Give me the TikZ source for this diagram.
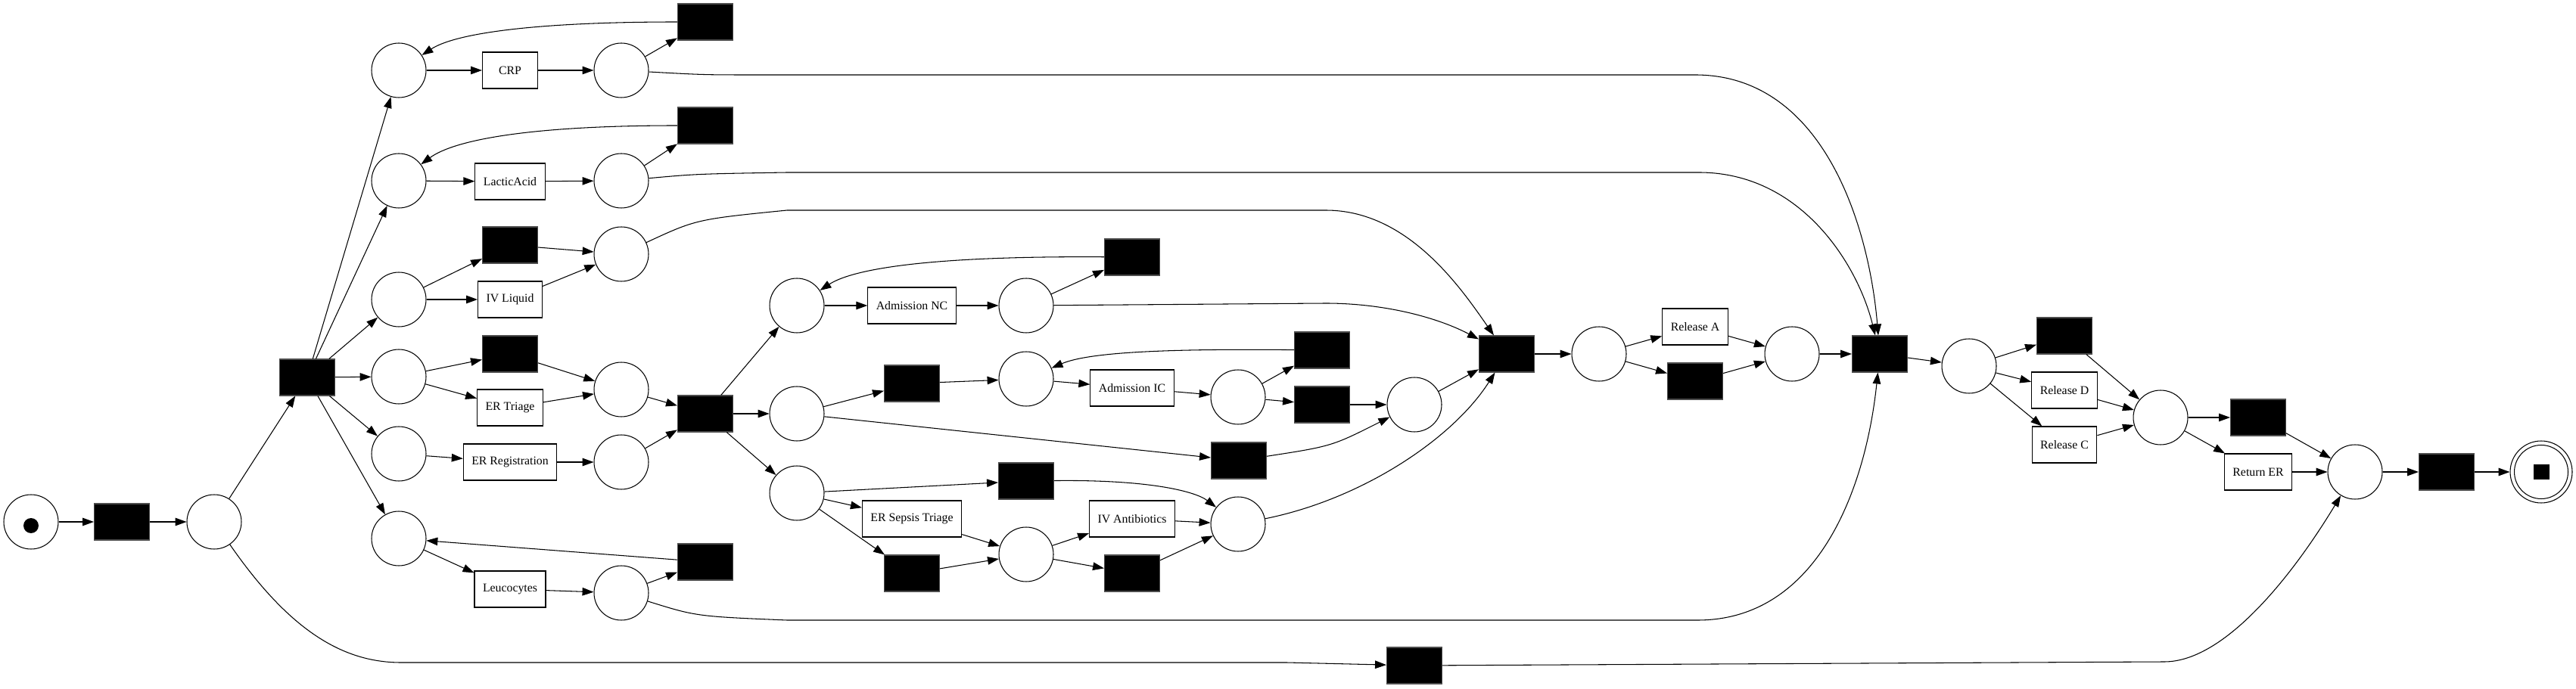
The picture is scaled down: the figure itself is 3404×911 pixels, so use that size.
\documentclass[tikz,border=0pt]{standalone}
\usepackage{fontspec}
\setmainfont{Liberation Serif}
\usetikzlibrary{arrows.meta}

\begin{document}
\begin{tikzpicture}[x=0.02cm,y=-0.02cm,->,>={Triangle[length=8.5pt,width=6pt]},line width=0.6pt,
  place/.style={circle,draw,minimum size=1.44cm,inner sep=0pt},
  final place/.style={circle,draw,minimum size=1.64cm,inner sep=0pt},
  tau/.style={rectangle,draw=black!70,fill=black,minimum width=1.46cm,minimum height=0.96cm,inner sep=0pt},
  task/.style={rectangle,draw,minimum width=1.46cm,minimum height=0.96cm,inner xsep=0.22cm,
    font=\fontsize{9}{11}\selectfont}]

  \useasboundingbox (0,0) rectangle (3404,911);

  % places
  \node[place] (p0) at (41,690) {};
  \node[place] (p1) at (283,690) {};
  \node[place] (p2) at (527,93) {};
  \node[place] (p3) at (527,239) {};
  \node[place] (p4) at (527,396) {};
  \node[place] (p5) at (527,498) {};
  \node[place] (p6) at (527,600) {};
  \node[place] (p7) at (527,712) {};
  \node[place] (p8) at (821,93) {};
  \node[place] (p9) at (821,239) {};
  \node[place] (p10) at (821,336) {};
  \node[place] (p11) at (821,515) {};
  \node[place] (p12) at (821,611) {};
  \node[place] (p13) at (821,784) {};
  \node[place] (p14) at (1053,404) {};
  \node[place] (p15) at (1053,547) {};
  \node[place] (p16) at (1053,652) {};
  \node[place] (p17) at (1356,404) {};
  \node[place] (p18) at (1356,501) {};
  \node[place] (p19) at (1356,733) {};
  \node[place] (p20) at (1636,525) {};
  \node[place] (p21) at (1636,693) {};
  \node[place] (p22) at (1869,535) {};
  \node[place] (p23) at (2113,468) {};
  \node[place] (p24) at (2368,468) {};
  \node[place] (p25) at (2602,484) {};
  \node[place] (p26) at (2855,552) {};
  \node[place] (p27) at (3112,624) {};
  \node[final place] (p28) at (3358,624) {};

  \fill (p0.center) ++(0,5) circle (0.2cm);
  \draw (p28) circle (0.71cm);
  \fill (p28.center) ++(-0.21cm,0.21cm) rectangle ++(0.42cm,-0.42cm);

  % transitions
  \node[tau] (t1) at (161,690) {};
  \node[tau] (t2) at (406,499) {};
  \node[task] (t3) at (674,93) {CRP};
  \node[task] (t4) at (674,240) {LacticAcid};
  \node[tau] (t5) at (674,324) {};
  \node[task] (t6) at (674,396) {IV Liquid};
  \node[tau] (t7) at (674,468) {};
  \node[task] (t8) at (674,539) {ER Triage};
  \node[task] (t9) at (674,611) {ER Registration};
  \node[task] (t10) at (674,779) {Leucocytes};
  \node[tau] (t11) at (932,29) {};
  \node[tau] (t12) at (932,166) {};
  \node[tau] (t13) at (932,547) {};
  \node[tau] (t14) at (932,743) {};
  \node[task] (t15) at (1205,404) {Admission NC};
  \node[tau] (t16) at (1205,507) {};
  \node[task] (t17) at (1205,686) {ER Sepsis Triage};
  \node[tau] (t18) at (1205,758) {};
  \node[tau] (t19) at (1496,340) {};
  \node[task] (t20) at (1496,513) {Admission IC};
  \node[tau] (t21) at (1637,609) {};
  \node[tau] (t22) at (1356,636) {};
  \node[task] (t23) at (1496,686) {IV Antibiotics};
  \node[tau] (t24) at (1496,758) {};
  \node[tau] (t25) at (1747,463) {};
  \node[tau] (t26) at (1747,535) {};
  \node[tau] (t27) at (1991,468) {};
  \node[task] (t28) at (2240,432) {Release A};
  \node[tau] (t29) at (2240,504) {};
  \node[tau] (t30) at (2484,468) {};
  \node[tau] (t31) at (2728,444) {};
  \node[task] (t32) at (2728,516) {Release D};
  \node[task] (t33) at (2728,588) {Release C};
  \node[tau] (t34) at (2984,552) {};
  \node[task] (t35) at (2984,624) {Return ER};
  \node[tau] (t36) at (3233,624) {};
  \node[tau] (t37) at (1869,880) {};

  \path
    (p0) edge (t1)
    (t1) edge (p1)
    (p1) edge (t2)
    (t2) edge (p2) edge (p3) edge (p4) edge (p5) edge (p6) edge (p7)
    (p2) edge (t3)
    (t3) edge (p8)
    (p8) edge (t11)
    (p3) edge (t4)
    (t4) edge (p9)
    (p9) edge (t12)
    (p4) edge (t5) edge (t6)
    (t5) edge (p10)
    (t6) edge (p10)
    (p5) edge (t7) edge (t8)
    (t7) edge (p11)
    (t8) edge (p11)
    (p6) edge (t9)
    (t9) edge (p12)
    (p7) edge (t10)
    (t10) edge (p13)
    (p13) edge (t14)
    (t14) edge (p7)
    (p11) edge (t13)
    (p12) edge (t13)
    (t13) edge (p14) edge (p15) edge (p16)
    (p14) edge (t15)
    (t15) edge (p17)
    (p17) edge (t19)
    (p15) edge (t16) edge (t21)
    (t16) edge (p18)
    (p18) edge (t20)
    (t20) edge (p20)
    (p20) edge (t25) edge (t26)
    (t26) edge (p22)
    (p16) edge (t22) edge (t17)
    (t17) edge (p19)
    (t18) edge (p19)
    (p19) edge (t23) edge (t24)
    (t23) edge (p21)
    (t24) edge (p21)
    (p22) edge (t27)
    (t27) edge (p23)
    (p23) edge (t28) edge (t29)
    (t28) edge (p24)
    (t29) edge (p24)
    (p24) edge (t30)
    (t30) edge (p25)
    (p25) edge (t31) edge (t32) edge (t33)
    (t31) edge (p26)
    (t32) edge (p26)
    (t33) edge (p26)
    (p26) edge (t34) edge (t35)
    (t34) edge (p27)
    (t35) edge (p27)
    (p27) edge (t36)
    (t36) edge (p28);

  \draw (t11) .. controls (700,29) and (600,45) .. (p2);
  \draw (t12) .. controls (700,166) and (600,185) .. (p3);
  \draw (t19) .. controls (1200,338) and (1120,360) .. (p14);
  \draw (t25) .. controls (1550,461) and (1440,465) .. (p18);
  \draw (p16) .. controls (1120,700) .. (t18);
  \draw (t22) .. controls (1520,634) and (1580,650) .. (p21);
  \draw (t21) .. controls (1760,590) .. (p22);
  \draw (p21) .. controls (1800,660) and (1920,580) .. (t27);
  \draw (p10) .. controls (920,290) .. (1040,278) -- (1752,278) .. controls (1860,278) and (1930,380) .. (t27);
  \draw (p17) -- (1752,401) .. controls (1830,401) and (1900,420) .. (t27);
  \draw (p8) .. controls (930,99) .. (1000,99) -- (2240,99) .. controls (2410,99) and (2470,300) .. (t30);
  \draw (p9) .. controls (920,230) .. (1040,228) -- (2245,228) .. controls (2380,228) and (2455,350) .. (t30);
  \draw (p13) .. controls (920,815) .. (1040,820) -- (2243,820) .. controls (2400,820) and (2465,650) .. (t30);
  \draw (p1) .. controls (380,830) and (450,876) .. (530,876) -- (1700,876) -- (t37);
  \draw (t37) -- (2860,875) .. controls (2940,875) and (3030,760) .. (p27);
\end{tikzpicture}
\end{document}
